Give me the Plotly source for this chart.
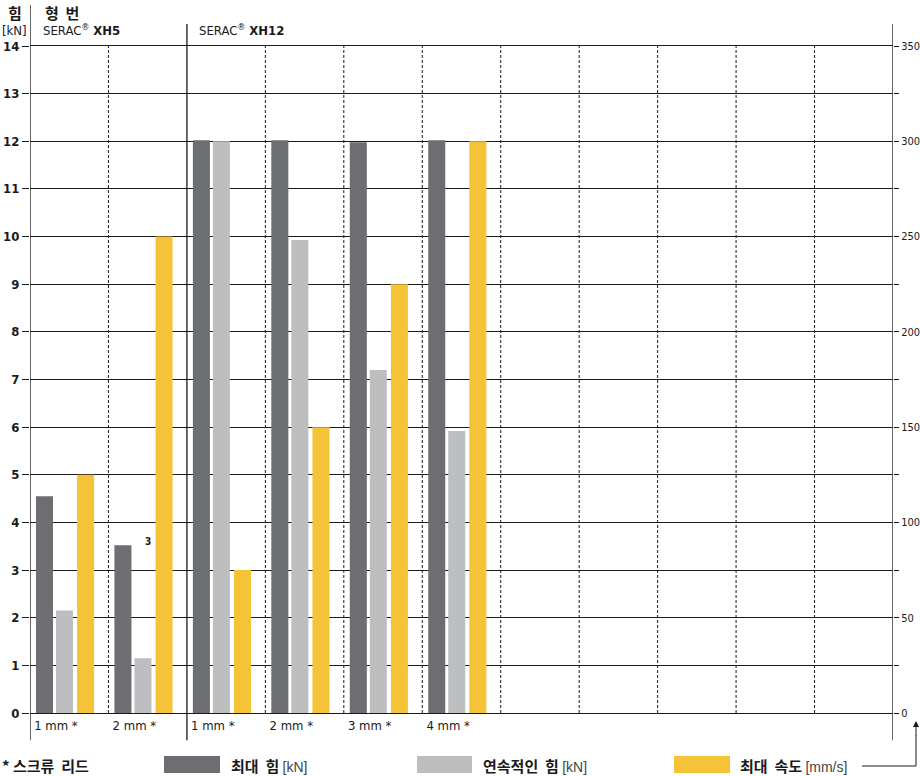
import plotly.graph_objects as go

# data
categories = ["1 mm *", "2 mm *", "1 mm *", "2 mm *", "3 mm *", "4 mm *"]
max_force = [4.55, 3.52, 12.02, 12.02, 11.98, 12.02]        # kN
cont_force = [2.15, 1.15, 12.0, 9.93, 7.2, 5.92]            # kN
max_speed = [125, 250, 75, 150, 225, 300]                   # mm/s
n_cols = 11
force_ticks = list(range(0, 15))
speed_ticks = list(range(0, 351, 25))

W, H = 920, 776
L, R, T, B = 30, 27, 46, 63
PW, PH = W - L - R, H - T - B

DARK = "#6d6e71"
LIGHT = "#bcbec0"
YELLOW = "#f4c337"
INK = "#1a1a1a"
FONT = "Liberation Sans Narrow, DejaVu Sans Condensed, Liberation Sans, Arial"
KFONT = "Noto Sans CJK KR"


def px(x):
    return (x - L) / PW


def py(y):
    return (H - B - y) / PH


xs = list(range(len(categories)))
bw = 0.217

fig = go.Figure()
fig.add_trace(go.Bar(x=xs, y=max_force, width=bw, offset=0.076,
                     marker=dict(color=DARK, line=dict(width=0)), name="최대 힘"))
fig.add_trace(go.Bar(x=xs, y=cont_force, width=bw, offset=0.331,
                     marker=dict(color=LIGHT, line=dict(width=0)), name="연속적인 힘"))
fig.add_trace(go.Bar(x=xs, y=max_speed, width=bw, offset=0.6, yaxis="y2",
                     marker=dict(color=YELLOW, line=dict(width=0)), name="최대 속도"))

shapes = []
# column separators
for k in range(1, n_cols):
    if k == 2:
        continue
    shapes.append(dict(type="line", xref="x", yref="y", x0=k, x1=k, y0=0, y1=14,
                       line=dict(color=INK, width=1, dash="3px,2px"), layer="above"))
# solid verticals
for k, ytop in [(0, 1.0615), (2, 1.033), (n_cols, 1.033)]:
    shapes.append(dict(type="line", xref="x", yref="paper", x0=k, x1=k, y0=-0.041, y1=ytop,
                       line=dict(color=INK, width=1.3), layer="above"))

# legend swatches
for x0, x1, c in [(164, 220, DARK), (417, 472, LIGHT), (674, 730, YELLOW)]:
    shapes.append(dict(type="rect", xref="paper", yref="paper", x0=px(x0), x1=px(x1),
                       y0=py(773), y1=py(756), fillcolor=c, line=dict(width=0)))
# arrow line to right axis
shapes.append(dict(type="path", xref="paper", yref="paper",
                   path=f"M{px(862)},{py(766)} L{px(916)},{py(766)} L{px(916)},{py(735)}",
                   line=dict(color=INK, width=1)))


def label(x, y, text, family=FONT, size=13, anchor="left"):
    return dict(x=px(x), y=py(y), xref="paper", yref="paper", text=text,
                xanchor=anchor, yanchor="middle", showarrow=False,
                font=dict(family=family, size=size, color=INK))


UNIT = "<span style='font-family:Liberation Sans;font-size:14px;color:#444'>"
annotations = [
    label(15, 12, "<b>힘</b>", KFONT, 15, "center"),
    label(43, 12, "<b>형  번</b>", KFONT, 15),
    label(0, 30, "[kN]"),
    label(41, 30, "SERAC<sup>®</sup> <b>XH5</b>"),
    label(197, 30, "SERAC<sup>®</sup> <b>XH12</b>"),
    dict(x=1.5, y=3.6, xref="x", yref="y", text="<b>3</b>",
         showarrow=False, font=dict(family=FONT, size=10, color=INK)),
    # legend
    label(0, 765, "<b>* 스크류  리드</b>", KFONT, 15),
    label(229, 765, "<b>최대  힘</b> " + UNIT + "[kN]</span>", KFONT, 15),
    label(481, 765, "<b>연속적인  힘</b> " + UNIT + "[kN]</span>", KFONT, 15),
    label(738, 765, "<b>최대  속도</b> " + UNIT + "[mm/s]</span>", KFONT, 15),
    dict(x=px(916), y=py(721), xref="paper", yref="paper", text="", showarrow=True,
         ax=0, ay=16, arrowhead=2, arrowsize=1.2, arrowwidth=1, arrowcolor=INK),
]

fig.update_layout(
    width=W, height=H,
    margin=dict(l=L, r=R, t=T, b=B, pad=0, autoexpand=False),
    paper_bgcolor="white", plot_bgcolor="white",
    showlegend=False,
    barmode="overlay",
    font=dict(family=FONT, size=13, color=INK),
    shapes=shapes,
    annotations=annotations,
    xaxis=dict(range=[0, n_cols], tickvals=[i + 0.33 for i in xs], ticktext=categories,
               ticks="", showgrid=False, zeroline=False, showline=True, mirror=True,
               linecolor=INK, linewidth=1.3, automargin=False,
               tickfont=dict(size=13, family=FONT, color=INK)),
    yaxis=dict(range=[0, 14], tickvals=force_ticks, ticks="outside", ticklen=7,
               tickcolor=INK, tickwidth=1.3, showgrid=True, gridcolor=INK, gridwidth=1.3,
               zeroline=False, showline=False, automargin=False,
               tickfont=dict(size=13, family=FONT, color=INK, weight="bold")),
    yaxis2=dict(range=[0, 350], overlaying="y", side="right", tickvals=speed_ticks,
                ticktext=[str(v) if v % 50 == 0 else "" for v in speed_ticks],
                ticks="outside", ticklen=5, tickcolor=INK, tickwidth=1.3,
                showgrid=False, zeroline=False, showline=False, automargin=False,
                tickfont=dict(size=11, family=FONT, color=INK)),
)

fig.write_html("out.html", config={"displayModeBar": False},
               post_script="document.body.style.margin='0px';")
